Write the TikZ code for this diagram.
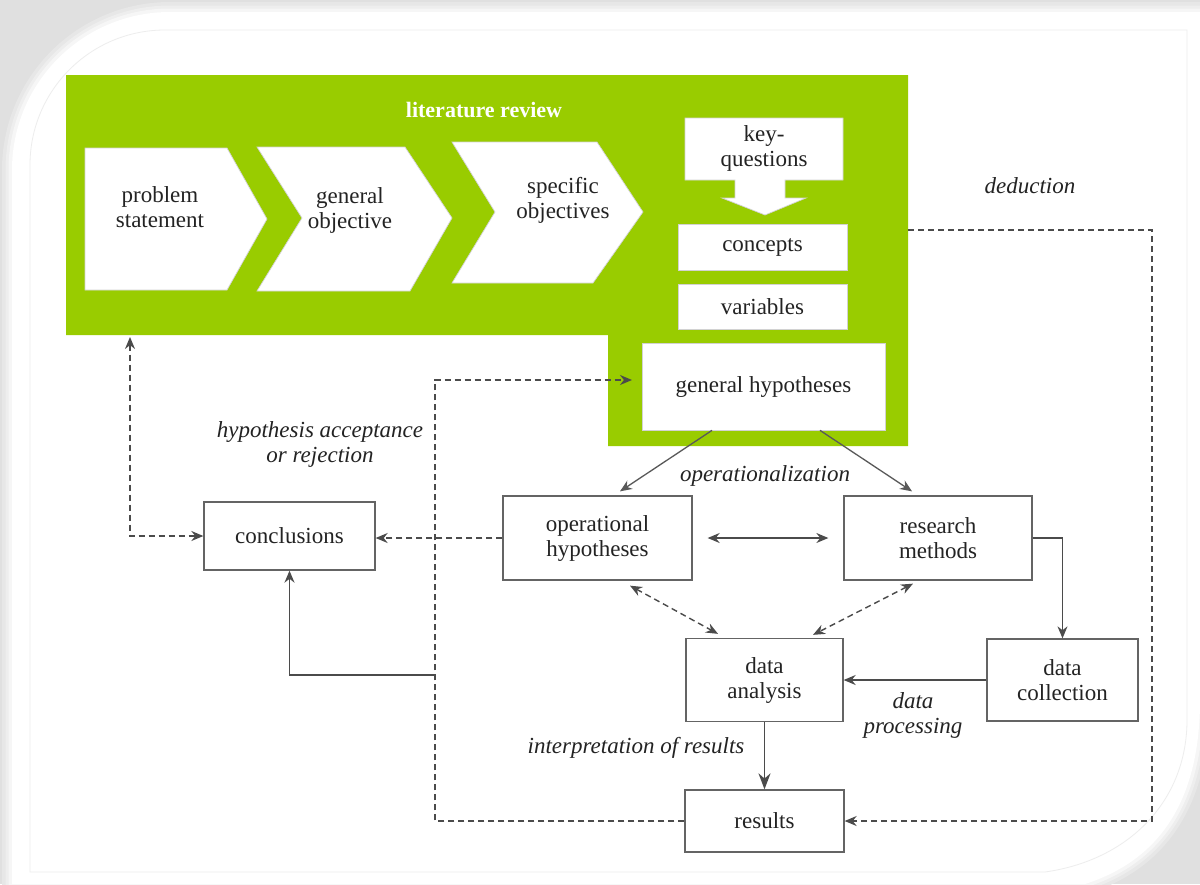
\documentclass[tikz,border=0pt]{standalone}
\usepackage{fontspec}
\setmainfont{Liberation Serif}
\usetikzlibrary{arrows.meta}
\definecolor{litgreen}{RGB}{153,204,0}
\definecolor{linegray}{RGB}{75,75,75}
\definecolor{boxgray}{RGB}{100,100,100}
\definecolor{txt}{RGB}{35,35,35}
\begin{document}
\begin{tikzpicture}[x=1pt,y=-1pt,
  every node/.style={text=txt},
  box/.style={draw=boxgray, line width=1.3pt, fill=white, align=center, inner sep=0pt,
    font=\fontsize{23}{25}\selectfont},
  inbox/.style={draw=gray!35, line width=0.7pt, fill=white, align=center, inner sep=0pt,
    font=\fontsize{23}{25}\selectfont},
  chev/.style={draw=gray!35, line width=0.7pt, fill=white},
  plain/.style={align=center, inner sep=0pt, font=\fontsize{23}{25}\selectfont},
  lbl/.style={align=center, inner sep=0pt, font=\fontsize{23}{25}\selectfont\itshape},
  solidarr/.style={draw=linegray, line width=1.4pt, -{Stealth[length=12pt,width=10pt]}},
  lightarr/.style={draw=gray!70!black, line width=1.3pt, -{Stealth[length=12pt,width=10pt]}},
  dasharr/.style={draw=linegray, line width=1.4pt, dash pattern=on 6pt off 4pt},
  tip/.style={-{Stealth[length=12pt,width=10pt]}},
  tips/.style={{Stealth[length=12pt,width=10pt]}-{Stealth[length=12pt,width=10pt]}}
]
\useasboundingbox (0,0) rectangle (1200,884);

% page backdrop with a soft shadow round the card
\fill[gray!24] (0,0) rectangle (1200,884);
\foreach \w/\c in {20/gray!19, 13/gray!13, 7/gray!7}
  \draw[line width=\w pt, \c] (12,884) -- (12,170) arc[start angle=180,end angle=270,radius=158]
    -- (1200,12) -- (1200,700) .. controls (1200,800) and (1160,860) .. (1085,884) -- cycle;
\fill[white] (12,884) -- (12,170) arc[start angle=180,end angle=270,radius=158]
    -- (1200,12) -- (1200,700) .. controls (1200,800) and (1160,860) .. (1085,884) -- cycle;
% thin inner frame
\draw[gray!14, line width=0.8pt] (30,872) -- (30,165) arc[start angle=180,end angle=270,radius=135]
    -- (1187,30) -- (1187,720) .. controls (1187,800) and (1130,860) .. (1045,872) -- cycle;

% literature review panel
\fill[litgreen] (66,75) -- (908,75) -- (908,446) -- (608,446) -- (608,335) -- (66,335) -- cycle;
\node[font=\fontsize{22}{24}\selectfont\bfseries, text=white] (litrev) at (484,110) {literature review};

% chevrons
\draw[chev] (85,148) -- (227,148) -- (267,219) -- (227,290) -- (85,290) -- cycle;
\draw[chev] (257,147) -- (405,147) -- (452,218) -- (410,291) -- (257,291) -- (302,218) -- cycle;
\draw[chev] (452,142) -- (597,142) -- (643,212) -- (593,283) -- (452,283) -- (495,212) -- cycle;
\node[plain] (probst) at (160,207) {problem\\statement};
\node[plain] (genobj) at (350,210) {general\\objective};
\node[plain] (specobj) at (563,200) {specific\\objectives};

% key-questions with its block arrow
\draw[chev] (685,118) -- (843,118) -- (843,180) -- (785,180) -- (785,198) -- (806,198)
  -- (765,215) -- (722,198) -- (735,198) -- (735,180) -- (685,180) -- cycle;
\node[plain] (keyq) at (764,148) {key-\\questions};
\node[inbox, minimum width=169pt, minimum height=46pt] (concepts) at (762.5,247) {concepts};
\node[inbox, minimum width=169pt, minimum height=45pt] (variables) at (762.5,306.5) {variables};
\node[inbox, minimum width=243pt, minimum height=87pt] (gh) at (763.5,386.5) {general hypotheses};

% lower boxes
\node[box, minimum width=171pt, minimum height=68pt] (concl) at (289.5,536) {conclusions};
\node[box, minimum width=189pt, minimum height=84pt] (ophyp) at (597.5,538) {operational\\hypotheses};
\node[box, minimum width=188pt, minimum height=84pt] (resm) at (938,538) {research\\methods};
\node[box, minimum width=157pt, minimum height=83pt] (danal) at (764.5,680) {data\\analysis};
\node[box, minimum width=151pt, minimum height=82pt] (dcoll) at (1062.5,680) {data\\collection};
\node[box, minimum width=159pt, minimum height=62pt] (results) at (764.5,821) {results};

% labels
\node[lbl] (lded) at (1030,186) {deduction};
\node[lbl] (lhyp) at (320,444) {hypothesis acceptance\\or rejection};
\node[lbl] (lop) at (765,476) {operationalization};
\node[lbl] (ldp) at (913,715) {data\\processing};
\node[lbl] (lint) at (636,748) {interpretation of results};

% helper points
\coordinate (gbot) at (130,337);
\coordinate (gright) at (908,230);
\coordinate (dedc) at (1152,230);
\coordinate (fb) at (435,380);
\coordinate (ghin) at (632,380);
\coordinate (jn) at (435,675);

% solid connectors
\draw[lightarr] ([xshift=-51.5pt]gh.south) -- ([xshift=22.5pt,yshift=4pt]ophyp.north);
\draw[lightarr] ([xshift=56.5pt]gh.south) -- ([xshift=-26pt,yshift=4pt]resm.north);
\draw[solidarr, tips] ([xshift=15pt]ophyp.east) -- ([xshift=-15pt]resm.west);
\draw[solidarr] (resm.east) -| (dcoll.north);
\draw[solidarr] (dcoll.west) -- (danal.east);
\draw[draw=linegray, line width=1.8pt, -{Stealth[length=16pt,width=12pt]}] (danal.south) -- (results.north);
\draw[solidarr] (jn) -| (concl.south);

% dashed connectors
\draw[dasharr, tips] ([xshift=32.5pt,yshift=-5pt]ophyp.south) -- ([xshift=-46.5pt,yshift=4pt]danal.north);
\draw[dasharr, tips] ([xshift=-25pt,yshift=-3pt]resm.south) -- ([xshift=48.5pt,yshift=3pt]danal.north);
\draw[dasharr, tip] (ophyp.west) -- (ophyp.west -| concl.east);
\draw[dasharr, tips] (gbot) |- (concl.west);
\draw[dasharr, tip] (results.west) -| (fb) -- (ghin);
\draw[dasharr, tip] (gright) -- (dedc) |- (results.east);
\end{tikzpicture}
\end{document}
